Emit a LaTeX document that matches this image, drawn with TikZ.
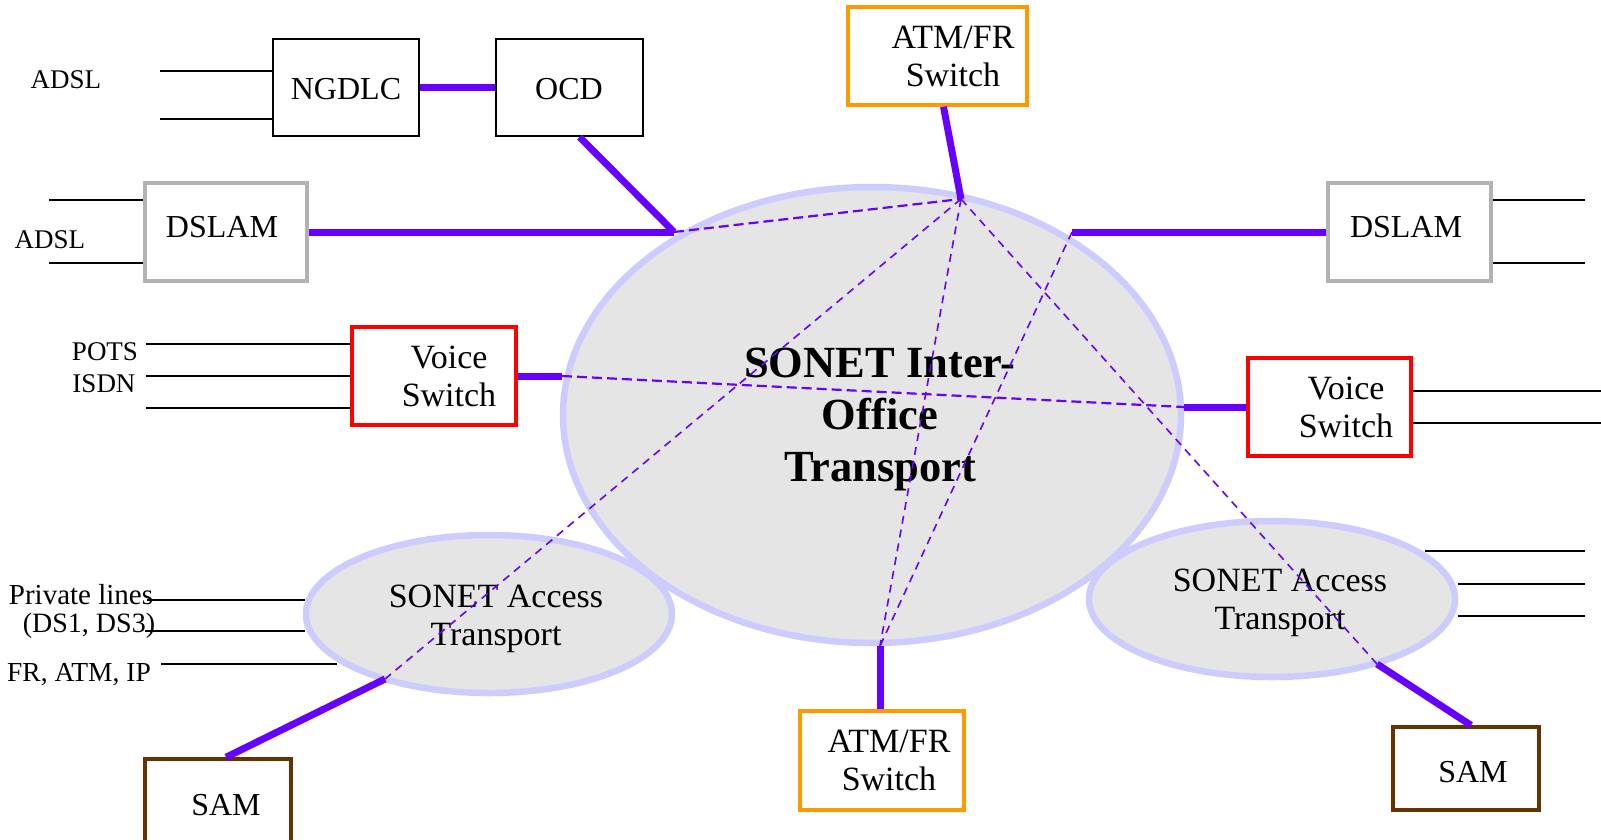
\documentclass[tikz,border=0pt]{standalone}
\usepackage{fontspec}
\setmainfont{Liberation Serif}
\definecolor{link}{RGB}{102,0,255}
\definecolor{ring}{RGB}{204,204,255}
\definecolor{cloud}{RGB}{229,229,229}
\definecolor{dslamgray}{RGB}{178,178,178}
\definecolor{atmorange}{RGB}{255,153,0}
\definecolor{sambrown}{RGB}{102,51,0}
\definecolor{voicered}{RGB}{255,0,0}
\begin{document}
\begin{tikzpicture}[x=1pt,y=-1pt,
  box/.style={draw, rectangle, inner sep=0pt, line width=#1},
  box/.default=3.5pt,
  boxtext/.style={font=\fontsize{32}{38}\selectfont, align=center, inner sep=0pt},
  twoline/.style={font=\fontsize{34}{38}\selectfont, align=center, inner sep=0pt},
  small/.style={font=\fontsize{27}{31}\selectfont, align=center, inner sep=0pt},
  net/.style={draw=ring, fill=cloud, line width=6.5pt},
  trunk/.style={draw=link, line width=7pt},
  path/.style={draw=link, line width=2.2pt, dash pattern=on 10pt off 5pt},
  fpath/.style={draw=link, line width=1.6pt, dash pattern=on 8pt off 6pt},
  tail/.style={draw=black, line width=2pt}]
\useasboundingbox (0,0) rectangle (1601,839);
\clip (0,0) rectangle (1601,839);

% transport rings
\draw[net] (872,415) ellipse [x radius=309, y radius=228];
\draw[net] (489,614) ellipse [x radius=183, y radius=79];
\draw[net] (1272,599) ellipse [x radius=183, y radius=78];
\coordinate (core) at (880,419);
\coordinate (accL) at (496,619);
\coordinate (accR) at (1280,603);

% equipment boxes
\node[box=2pt, minimum width=146pt, minimum height=97pt] (ngdlc) at (346,87.5) {};
\node[box=2pt, minimum width=147pt, minimum height=97pt] (ocd) at (569.5,87.5) {};
\node[box, draw=dslamgray, minimum width=162pt, minimum height=98pt] (dslamL) at (226,232) {};
\node[box, draw=dslamgray, minimum width=163pt, minimum height=98pt] (dslamR) at (1409.5,232) {};
\node[box, draw=atmorange, minimum width=179pt, minimum height=98pt] (atmT) at (937.5,56) {};
\node[box, draw=atmorange, minimum width=164pt, minimum height=99pt] (atmB) at (882,760.5) {};
\node[box, draw=voicered, minimum width=164pt, minimum height=98pt] (voiceL) at (434,376) {};
\node[box, draw=voicered, minimum width=163pt, minimum height=98pt] (voiceR) at (1329.5,407) {};
\node[box, draw=sambrown, minimum width=146pt, minimum height=97pt] (samL) at (218,807.5) {};
\node[box, draw=sambrown, minimum width=146pt, minimum height=83pt] (samR) at (1466,768.5) {};

% box captions
\node[boxtext] at (346,89) {NGDLC};
\node[boxtext] at (569,89) {OCD};
\node[boxtext] at (222,227) {DSLAM};
\node[boxtext] at (1406,227) {DSLAM};
\node[twoline] at (953,56) {ATM/FR\\Switch};
\node[twoline] at (889,760) {ATM/FR\\Switch};
\node[twoline] at (449,376) {Voice\\Switch};
\node[twoline] at (1346,407) {Voice\\Switch};
\node[boxtext] at (226,805) {SAM};
\node[boxtext] at (1473,772) {SAM};

% ring captions
\node[font=\fontsize{44.5}{52}\selectfont\bfseries, align=center, inner sep=0pt] at (core) {SONET Inter-\\Office\\Transport};
\node[twoline] at (accL) {SONET Access\\Transport};
\node[twoline] at (accR) {SONET Access\\Transport};

% attachment points on the rings
\coordinate (ioL) at (674,232);
\coordinate (ioT) at (961,199);
\coordinate (ioR) at (1072,232);
\coordinate (ioVL) at (562,376);
\coordinate (ioVR) at (1184,407);
\coordinate (ioB) at (880,646);
\coordinate (acL) at (385,679);
\coordinate (acR) at (1377,664);

% optical trunks
\draw[trunk] (ngdlc.east) -- (ocd.west);
\draw[trunk] ([xshift=10pt]ocd.south) -- (ioL);
\draw[trunk] (dslamL.east) -- (ioL);
\draw[trunk] ([xshift=6pt]atmT.south) -- (ioT);
\draw[trunk] (ioR) -- (dslamR.west);
\draw[trunk] (voiceL.east) -- (ioVL);
\draw[trunk] (ioVR) -- (voiceR.west);
\draw[trunk] (ioB) -- (ioB |- atmB.north);
\draw[trunk] ([xshift=8pt]samL.north) -- (acL);
\draw[trunk] (acR) -- ([xshift=5pt]samR.north);

% logical paths through the network
\draw[path] (ioL) -- (ioT);
\draw[path] (ioVL) -- (ioVR);
\draw[fpath] (ioT) -- (acL);
\draw[fpath] (ioT) -- (ioB);
\draw[fpath] (ioT) -- (acR);
\draw[fpath] (ioR) -- (ioB);

% customer lines
\coordinate (a1) at (160,70.5);
\coordinate (a2) at (160,118.5);
\draw[tail] (a1) -- (a1 -| ngdlc.west);
\draw[tail] (a2) -- (a2 -| ngdlc.west);
\node[small] at (66,80) {ADSL};

\coordinate (d1) at (49,200);
\coordinate (d2) at (49,263);
\draw[tail] (d1) -- (d1 -| dslamL.west);
\draw[tail] (d2) -- (d2 -| dslamL.west);
\node[small] at (50,240) {ADSL};

\coordinate (e1) at (1585,200);
\coordinate (e2) at (1585,263);
\draw[tail] (dslamR.east |- e1) -- (e1);
\draw[tail] (dslamR.east |- e2) -- (e2);

\coordinate (v1) at (146,344);
\coordinate (v2) at (146,376);
\coordinate (v3) at (146,408);
\draw[tail] (v1) -- (v1 -| voiceL.west);
\draw[tail] (v2) -- (v2 -| voiceL.west);
\draw[tail] (v3) -- (v3 -| voiceL.west);
\node[small] at (105,352) {POTS};
\node[small] at (104,384) {ISDN};

\coordinate (w1) at (1601,391);
\coordinate (w2) at (1601,423);
\draw[tail] (voiceR.east |- w1) -- (w1);
\draw[tail] (voiceR.east |- w2) -- (w2);

\coordinate (p1) at (147,600);
\coordinate (p2) at (145,631);
\coordinate (p3) at (161,664);
\draw[tail] (p1) -- (305,600);
\draw[tail] (p2) -- (305,631);
\draw[tail] (p3) -- (337,664);
\node[small, font=\fontsize{29}{31}\selectfont] at (81,595) {Private lines};
\node[small, font=\fontsize{28}{31}\selectfont] at (89,626) {(DS1, DS3)};
\node[small, font=\fontsize{27.5}{31}\selectfont] at (79,675) {FR, ATM, IP};

\coordinate (q1) at (1585,551);
\coordinate (q2) at (1585,584);
\coordinate (q3) at (1585,616);
\draw[tail] (1425,551) -- (q1);
\draw[tail] (1458,584) -- (q2);
\draw[tail] (1458,616) -- (q3);
\end{tikzpicture}
\end{document}
